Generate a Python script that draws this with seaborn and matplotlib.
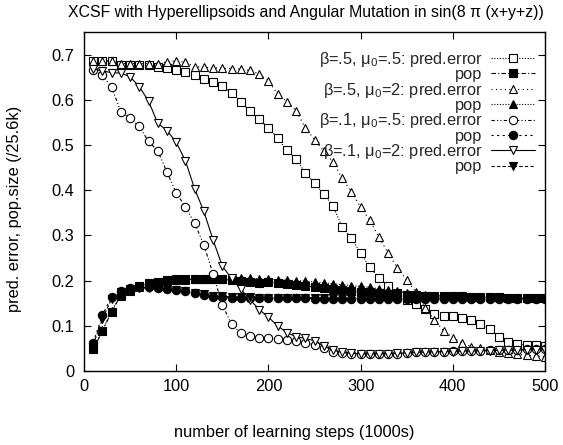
import numpy as np
import pandas as pd
import matplotlib
matplotlib.use("Agg")
import matplotlib.pyplot as plt
import seaborn as sns

steps = list(range(10, 501, 10))

b05_m05_err = [0.686, 0.686, 0.686, 0.678, 0.676, 0.676, 0.676, 0.673, 0.670, 0.665,
               0.661, 0.655, 0.646, 0.639, 0.631, 0.614, 0.595, 0.575, 0.557, 0.538,
               0.515, 0.489, 0.469, 0.438, 0.415, 0.392, 0.365, 0.319, 0.294, 0.261,
               0.230, 0.205, 0.188, 0.172, 0.158, 0.148, 0.137, 0.126, 0.122, 0.121,
               0.117, 0.113, 0.104, 0.093, 0.075, 0.064, 0.060, 0.057, 0.057, 0.055]
b05_m05_pop = [0.048, 0.088, 0.131, 0.168, 0.179, 0.187, 0.194, 0.198, 0.201, 0.203,
               0.203, 0.203, 0.203, 0.203, 0.203, 0.201, 0.199, 0.197, 0.195, 0.197,
               0.195, 0.192, 0.190, 0.188, 0.186, 0.183, 0.181, 0.179, 0.177, 0.175,
               0.174, 0.172, 0.171, 0.170, 0.169, 0.168, 0.167, 0.166, 0.166, 0.165,
               0.165, 0.164, 0.164, 0.163, 0.163, 0.162, 0.162, 0.162, 0.161, 0.161]
b05_m2_err = [0.686, 0.686, 0.686, 0.680, 0.680, 0.680, 0.680, 0.680, 0.684, 0.686,
              0.683, 0.673, 0.672, 0.671, 0.670, 0.669, 0.668, 0.665, 0.657, 0.642,
              0.613, 0.596, 0.576, 0.538, 0.512, 0.487, 0.462, 0.427, 0.396, 0.363,
              0.333, 0.296, 0.260, 0.228, 0.201, 0.175, 0.140, 0.113, 0.089, 0.074,
              0.062, 0.054, 0.050, 0.047, 0.043, 0.040, 0.037, 0.035, 0.033, 0.032]
b05_m2_pop = [0.050, 0.090, 0.133, 0.167, 0.178, 0.186, 0.192, 0.196, 0.199, 0.201,
              0.202, 0.203, 0.203, 0.203, 0.204, 0.205, 0.205, 0.205, 0.204, 0.203,
              0.202, 0.201, 0.200, 0.199, 0.197, 0.195, 0.193, 0.191, 0.189, 0.187,
              0.185, 0.182, 0.179, 0.176, 0.173, 0.171, 0.169, 0.167, 0.166, 0.165,
              0.165, 0.164, 0.164, 0.163, 0.163, 0.162, 0.162, 0.162, 0.161, 0.161]
b01_m05_err = [0.665, 0.654, 0.628, 0.573, 0.559, 0.541, 0.508, 0.487, 0.440, 0.394,
               0.363, 0.327, 0.279, 0.215, 0.146, 0.104, 0.084, 0.077, 0.074, 0.073,
               0.071, 0.069, 0.066, 0.063, 0.058, 0.051, 0.043, 0.040, 0.038, 0.037,
               0.037, 0.037, 0.037, 0.038, 0.040, 0.041, 0.042, 0.043, 0.043, 0.044,
               0.044, 0.045, 0.045, 0.046, 0.046, 0.047, 0.047, 0.048, 0.048, 0.049]
b01_m05_pop = [0.063, 0.124, 0.164, 0.176, 0.183, 0.185, 0.185, 0.184, 0.181, 0.179,
               0.177, 0.172, 0.168, 0.164, 0.163, 0.162, 0.162, 0.161, 0.161, 0.161,
               0.161, 0.161, 0.161, 0.161, 0.160, 0.160, 0.160, 0.160, 0.160, 0.160,
               0.160, 0.160, 0.160, 0.160, 0.160, 0.160, 0.160, 0.160, 0.160, 0.160,
               0.160, 0.160, 0.160, 0.160, 0.160, 0.160, 0.160, 0.160, 0.160, 0.160]
b01_m2_err = [0.668, 0.664, 0.660, 0.659, 0.651, 0.629, 0.597, 0.548, 0.532, 0.506,
              0.465, 0.403, 0.353, 0.290, 0.232, 0.205, 0.181, 0.158, 0.136, 0.119,
              0.100, 0.085, 0.076, 0.072, 0.067, 0.055, 0.046, 0.041, 0.039, 0.038,
              0.038, 0.038, 0.038, 0.039, 0.040, 0.041, 0.042, 0.042, 0.043, 0.043,
              0.044, 0.044, 0.045, 0.045, 0.046, 0.046, 0.046, 0.047, 0.047, 0.047]
b01_m2_pop = [0.058, 0.115, 0.160, 0.174, 0.181, 0.183, 0.184, 0.183, 0.181, 0.179,
              0.176, 0.173, 0.170, 0.167, 0.165, 0.164, 0.163, 0.163, 0.162, 0.162,
              0.162, 0.162, 0.162, 0.162, 0.162, 0.161, 0.161, 0.161, 0.161, 0.161,
              0.161, 0.161, 0.161, 0.161, 0.161, 0.161, 0.161, 0.161, 0.161, 0.161,
              0.161, 0.161, 0.161, 0.160, 0.160, 0.160, 0.160, 0.160, 0.160, 0.160]

labels = ["β=.5, μ$_0$=.5: pred.error", "pop",
          "β=.5, μ$_0$=2: pred.error", "pop",
          "β=.1, μ$_0$=.5: pred.error", "pop",
          "β=.1, μ$_0$=2: pred.error", "pop"]

xticks = [0, 100, 200, 300, 400, 500]
yticks = [0, 0.1, 0.2, 0.3, 0.4, 0.5, 0.6, 0.7]
ytick_labels = ["0", "0.1", "0.2", "0.3", "0.4", "0.5", "0.6", "0.7"]

title = "XCSF with Hyperellipsoids and Angular Mutation in sin(8 π (x+y+z))"
xlabel = "number of learning steps (1000s)"
ylabel = "pred. error, pop.size (/25.6k)"

series = [b05_m05_err, b05_m05_pop, b05_m2_err, b05_m2_pop,
          b01_m05_err, b01_m05_pop, b01_m2_err, b01_m2_pop]

styles = [
    dict(marker="s", mfc="white", ls=(0, (1, 1.5))),
    dict(marker="s", mfc="black", ls=(0, (4, 2, 1, 2))),
    dict(marker="^", mfc="white", ls=(0, (1, 3))),
    dict(marker="^", mfc="black", ls=(0, (1, 1.5))),
    dict(marker="o", mfc="white", ls=(0, (3, 2, 1, 2, 1, 2))),
    dict(marker="o", mfc="black", ls=(0, (2, 3))),
    dict(marker="v", mfc="white", ls="-"),
    dict(marker="v", mfc="black", ls=(0, (3, 2))),
]

FS = 11.8

sns.set_theme(style="ticks")
plt.rcParams["font.family"] = ["Liberation Sans", "DejaVu Sans"]
plt.rcParams["mathtext.fontset"] = "custom"
plt.rcParams["mathtext.rm"] = "Liberation Sans"
plt.rcParams["mathtext.it"] = "Liberation Sans:italic"
plt.rcParams["mathtext.default"] = "regular"

fig = plt.figure(figsize=(5.63, 4.45), dpi=100)
ax = fig.add_axes([84 / 563, 74 / 445, (545 - 84) / 563, (371 - 32) / 445])

for vals, lab, st in zip(series, labels, styles):
    sns.lineplot(x=steps, y=vals, ax=ax, color="black", linewidth=0.8,
                 linestyle=st["ls"], marker=st["marker"], markersize=6,
                 markerfacecolor=st["mfc"], markeredgecolor="black",
                 markeredgewidth=0.8, label=lab)

ax.set_xlim(0, 500)
ax.set_ylim(0, 0.75)
ax.set_xticks(xticks)
ax.set_xticklabels([str(t) for t in xticks])
ax.set_yticks(yticks)
ax.set_yticklabels(ytick_labels)
ax.tick_params(direction="in", top=True, right=True, length=5, width=0.8,
               labelsize=FS, colors="black")
ax.tick_params(axis="x", pad=6)
ax.tick_params(axis="y", pad=7)
for sp in ax.spines.values():
    sp.set_color("black")
    sp.set_linewidth(1.0)

ax.set_xlabel("")
ax.set_ylabel("")
fig.text(294.5 / 563, 1 - 433 / 445, xlabel, ha="center", va="center", fontsize=FS, color="black")
fig.text(15 / 563, 1 - 208.5 / 445, ylabel, ha="center", va="center", rotation=90,
         fontsize=FS, color="black")
fig.text(305.5 / 563, 1 - 13 / 445, title, ha="center", va="center", fontsize=11.4, color="black")

leg = ax.legend(loc="upper right", bbox_to_anchor=(1.0, 1 - 8 / 339),
                markerfirst=False, frameon=False, fontsize=FS,
                handlelength=2.7, labelspacing=-0.1, borderaxespad=0.4,
                handletextpad=0.5, borderpad=0.2)

fig.savefig("out.png", dpi=100)
